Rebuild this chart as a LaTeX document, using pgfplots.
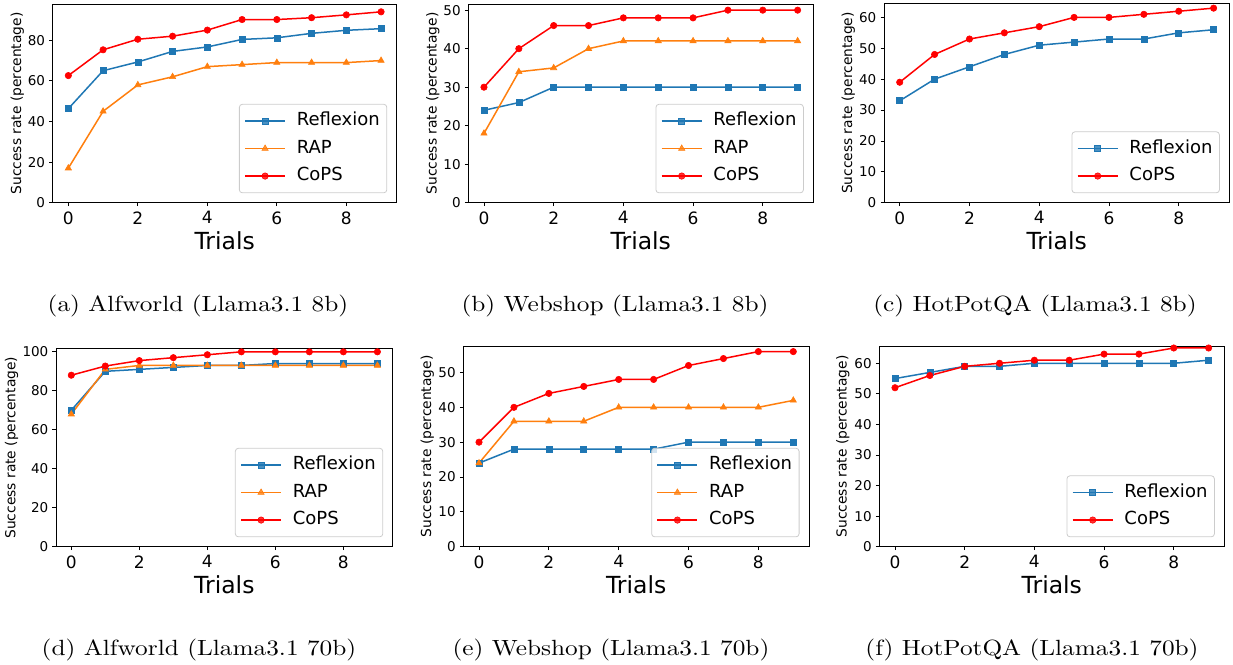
\documentclass[border=0pt]{standalone}
\usepackage{fontspec}
\usepackage{graphicx}
\usepackage{pgfplots}
\pgfplotsset{compat=1.18}
\newfontfamily\dejavu{DejaVu Sans}

\definecolor{tabblue}{HTML}{1F77B4}
\definecolor{taborange}{HTML}{FF7F0E}
\definecolor{legframe}{HTML}{CCCCCC}

\pgfplotsset{
  legend image code/.code={%
    \draw[mark repeat=2,mark phase=2,#1] plot coordinates {(0pt,0pt) (20pt,0pt) (40pt,0pt)};},
  yl/.style={ylabel style={at={(axis description cs:#1,0.5)}}},
  panel/.style={
    scale only axis,
    xmin=-0.45, xmax=9.45, ymin=0,
    xtick={0,2,4,6,8},
    tick align=outside,
    major tick length=3.5pt,
    xtick pos=left, ytick pos=left,
    axis line style={line width=0.8pt},
    every tick/.style={black, line width=0.8pt},
    /pgf/number format/assume math mode=true,
    xticklabel style={font=\dejavu\fontsize{17}{20}\selectfont, inner sep=0pt, yshift=-5pt},
    yticklabel style={font=\dejavu\fontsize{13.5}{16}\selectfont, inner sep=0pt, xshift=-4pt},
    xlabel={Trials},
    xlabel style={font=\dejavu\fontsize{23.5}{28}\selectfont, at={(axis description cs:0.5,-0.19)}, anchor=center},
    ylabel={Success rate (percentage)},
    ylabel style={font=\dejavu\fontsize{13.8}{16}\selectfont, anchor=center},
    legend cell align=left,
    legend style={at={(1,0)}, anchor=south east, xshift=-9.5pt, yshift=9.5pt,
      draw=legframe, line width=0.8pt, rounded corners=3pt,
      fill=white, fill opacity=0.8, text opacity=1,
      font=\dejavu\fontsize{18}{21}\selectfont,
      inner xsep=5pt, inner ysep=3pt, row sep=0pt, column sep=9pt,
      nodes={inner ysep=5pt, inner xsep=2pt, text height=13.5pt, text depth=4pt}},
  },
  refl/.style={color=tabblue, line width=1.5pt, mark=square*, mark size=3pt, mark options={line width=0.6pt}},
  rap/.style={color=taborange, line width=1.5pt, mark=triangle*, mark size=3.6pt, mark options={line width=0.6pt}},
  cops/.style={color=red, line width=1.5pt, mark=*, mark size=3.2pt, mark options={line width=0.6pt}},
}

\begin{document}
\begin{tikzpicture}
\useasboundingbox (0pt,0pt) rectangle (1233pt,-664pt);

% (a) Alfworld 8b
\begin{axis}[panel, at={(52.7pt,-4pt)}, anchor=north west, width=344pt, height=198.7pt,
  ymax=97.85, ytick={0,20,40,60,80}, yl=-0.103]
\addplot[refl] coordinates {(0,46.3) (1,65) (2,69.3) (3,74.5) (4,76.7) (5,80.4) (6,81.2) (7,83.4) (8,84.9) (9,85.7)};
\addplot[rap] coordinates {(0,17) (1,45) (2,58) (3,62) (4,67) (5,68) (6,69) (7,69) (8,69) (9,70)};
\addplot[cops] coordinates {(0,62.6) (1,75.3) (2,80.5) (3,82) (4,85) (5,90.2) (6,90.2) (7,91.1) (8,92.5) (9,94)};
\legend{Reflexion,RAP,CoPS}
\end{axis}

% (b) Webshop 8b
\begin{axis}[panel, at={(468.3pt,-4pt)}, anchor=north west, width=345pt, height=198.7pt,
  ymax=51.6, ytick={0,10,20,30,40,50}, yl=-0.103]
\addplot[refl] coordinates {(0,24) (1,26) (2,30) (3,30) (4,30) (5,30) (6,30) (7,30) (8,30) (9,30)};
\addplot[rap] coordinates {(0,18) (1,34) (2,35) (3,40) (4,42) (5,42) (6,42) (7,42) (8,42) (9,42)};
\addplot[cops] coordinates {(0,30) (1,40) (2,46) (3,46) (4,48) (5,48) (6,48) (7,50) (8,50) (9,50)};
\legend{Reflexion,RAP,CoPS}
\end{axis}

% (c) HotPotQA 8b
\begin{axis}[panel, at={(884pt,-3.5pt)}, anchor=north west, width=345.3pt, height=199.2pt,
  ymax=64.5, ytick={0,10,20,30,40,50,60}, yl=-0.103]
\addplot[refl] coordinates {(0,33) (1,40) (2,44) (3,48) (4,51) (5,52) (6,53) (7,53) (8,55) (9,56)};
\addplot[cops] coordinates {(0,39) (1,48) (2,53) (3,55) (4,57) (5,60) (6,60) (7,61) (8,62) (9,63)};
\legend{Reflexion,CoPS}
\end{axis}

% (d) Alfworld 70b
\begin{axis}[panel, at={(56pt,-348.7pt)}, anchor=north west, width=336.7pt, height=198pt,
  ymax=101.6, ytick={0,20,40,60,80,100}, yl=-0.1316]
\addplot[refl] coordinates {(0,70) (1,90) (2,91) (3,92) (4,93) (5,93) (6,94) (7,94) (8,94) (9,94)};
\addplot[rap] coordinates {(0,68) (1,91) (2,93) (3,93) (4,93) (5,93) (6,93) (7,93) (8,93) (9,93)};
\addplot[cops] coordinates {(0,88) (1,92.7) (2,95.5) (3,97) (4,98.5) (5,100) (6,100) (7,100) (8,100) (9,100)};
\legend{Reflexion,RAP,CoPS}
\end{axis}

% (e) Webshop 70b
\begin{axis}[panel, at={(463.3pt,-346pt)}, anchor=north west, width=345.7pt, height=200.7pt,
  ymax=57.6, ytick={0,10,20,30,40,50}, yl=-0.104]
\addplot[refl] coordinates {(0,24) (1,28) (2,28) (3,28) (4,28) (5,28) (6,30) (7,30) (8,30) (9,30)};
\addplot[rap] coordinates {(0,24) (1,36) (2,36) (3,36) (4,40) (5,40) (6,40) (7,40) (8,40) (9,42)};
\addplot[cops] coordinates {(0,30) (1,40) (2,44) (3,46) (4,48) (5,48) (6,52) (7,54) (8,56) (9,56)};
\legend{Reflexion,RAP,CoPS}
\end{axis}

% (f) HotPotQA 70b
\begin{axis}[panel, at={(879.3pt,-346pt)}, anchor=north west, width=345pt, height=200.7pt,
  ymax=65.65, ytick={0,10,20,30,40,50,60}, yl=-0.106]
\addplot[refl] coordinates {(0,55) (1,57) (2,59) (3,59) (4,60) (5,60) (6,60) (7,60) (8,60) (9,61)};
\addplot[cops] coordinates {(0,52) (1,56) (2,59) (3,60) (4,61) (5,61) (6,63) (7,63) (8,65) (9,65)};
\legend{Reflexion,CoPS}
\end{axis}

% sub-figure captions
\node[anchor=base, inner sep=0pt] at (198pt,-311.7pt) {\scalebox{2.53}[2.2]{(a) Alfworld (Llama3.1 8b)}};
\node[anchor=base, inner sep=0pt] at (615pt,-311.7pt) {\scalebox{2.53}[2.2]{(b) Webshop (Llama3.1 8b)}};
\node[anchor=base, inner sep=0pt] at (1035pt,-311.7pt) {\scalebox{2.53}[2.2]{(c) HotPotQA (Llama3.1 8b)}};
\node[anchor=base, inner sep=0pt] at (199pt,-655pt) {\scalebox{2.53}[2.2]{(d) Alfworld (Llama3.1 70b)}};
\node[anchor=base, inner sep=0pt] at (611pt,-655pt) {\scalebox{2.53}[2.2]{(e) Webshop (Llama3.1 70b)}};
\node[anchor=base, inner sep=0pt] at (1032pt,-655pt) {\scalebox{2.53}[2.2]{(f) HotPotQA (Llama3.1 70b)}};
\end{tikzpicture}
\end{document}
